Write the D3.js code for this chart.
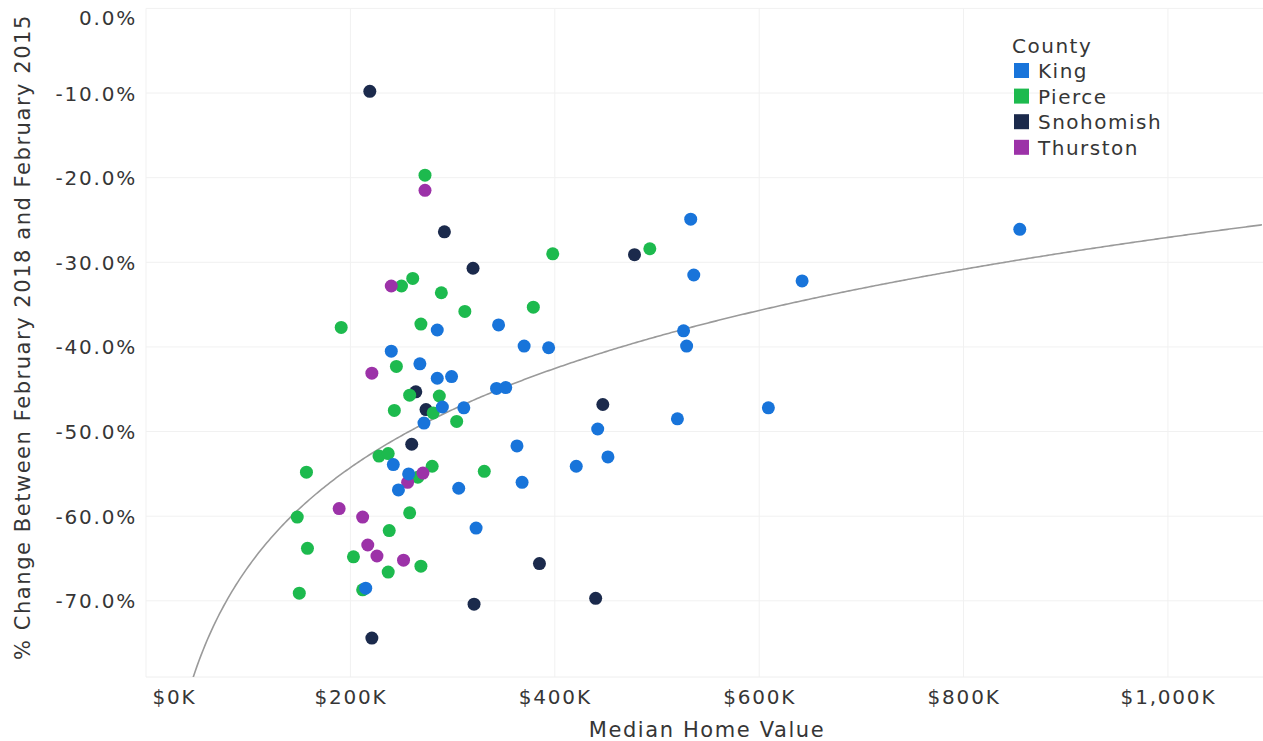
<!DOCTYPE html>
<html>
<head>
<meta charset="utf-8">
<script src="https://cdn.jsdelivr.net/npm/d3@7"></script>
<style>
  html, body { margin: 0; padding: 0; background: #ffffff; }
  svg { display: block; font-family: "DejaVu Sans", sans-serif; }
</style>
</head>
<body>
<svg id="chart" width="1263" height="741"></svg>
<script>
// Median home value ($K) and % change Feb 2015 -> Feb 2018, by county
const counties = ["King", "Pierce", "Snohomish", "Thurston"];
const countyColors = ["#1874da", "#1dba4e", "#1b2a4c", "#9c32a8"];

const kingValue  = [855, 533, 536, 642, 526, 529, 609, 520, 442, 452, 421, 363, 368, 345, 370, 394,
                    343, 352, 285, 240, 268, 285, 299, 290, 311, 272, 242, 257, 247, 306, 323, 215];
const kingChange = [-26.1, -24.9, -31.5, -32.2, -38.1, -39.9, -47.2, -48.5, -49.7, -53.0, -54.1, -51.7,
                    -56.0, -37.4, -39.9, -40.1, -44.9, -44.8, -38.0, -40.5, -42.0, -43.7, -43.5, -47.1,
                    -47.2, -49.0, -53.9, -55.0, -56.9, -56.7, -61.4, -68.5];

const pierceValue  = [273, 398, 493, 379, 250, 261, 289, 312, 191, 269, 245, 258, 287, 243, 281, 304,
                      228, 237, 280, 331, 266, 157, 148, 258, 238, 158, 203, 237, 269, 150, 212];
const pierceChange = [-19.7, -29.0, -28.4, -35.3, -32.8, -31.9, -33.6, -35.8, -37.7, -37.3, -42.3,
                      -45.7, -45.8, -47.5, -47.8, -48.8, -52.9, -52.6, -54.1, -54.7, -55.4, -54.8,
                      -60.1, -59.6, -61.7, -63.8, -64.8, -66.6, -65.9, -69.1, -68.7];

const snohomishValue  = [219, 292, 320, 478, 264, 274, 447, 260, 385, 321, 440, 221];
const snohomishChange = [-9.8, -26.4, -30.7, -29.1, -45.3, -47.4, -46.8, -51.5, -65.6, -70.4, -69.7, -74.4];

const thurstonValue  = [273, 240, 221, 271, 256, 189, 212, 217, 226, 252];
const thurstonChange = [-21.5, -32.8, -43.1, -54.9, -56.0, -59.1, -60.1, -63.4, -64.7, -65.2];

// logarithmic trend line: change = slope * ln(value in $K) + intercept
const trendSlope = 16.9;
const trendIntercept = -143.8;

const xTicks = [0, 200, 400, 600, 800, 1000];
const yTicks = [0, -10, -20, -30, -40, -50, -60, -70];

const xTitle = "Median Home Value";
const yTitle = "% Change Between February 2018 and February 2015";
const legendTitle = "County";

// ---------------------------------------------------------------
const seriesValues = [kingValue, pierceValue, snohomishValue, thurstonValue];
const seriesChanges = [kingChange, pierceChange, snohomishChange, thurstonChange];
const points = [];
counties.forEach((c, i) => {
  seriesValues[i].forEach((v, j) => points.push({ county: c, value: v, change: seriesChanges[i][j] }));
});

const svg = d3.select("#chart");
const plot = { left: 146, right: 1263, top: 8.4, bottom: 677 };

const x = d3.scaleLinear().domain([0, 1093]).range([plot.left, plot.right]);
const y = d3.scaleLinear().domain([-79.0, 0]).range([plot.bottom, plot.top]);
const color = d3.scaleOrdinal().domain(counties).range(countyColors);

const textFill = "#363636";
const tickSize = "20px", tickSpacing = "1.8px";

// plain hyphen for negatives
const fmtPct = d => d3.format(".1f")(d).replace("\u2212", "-") + "%";
const fmtK = d => "$" + d3.format(",")(d) + "K";

// gridlines
const grid = svg.append("g").attr("class", "grid");
grid.selectAll("line.h").data(yTicks).join("line")
  .attr("x1", plot.left).attr("x2", plot.right)
  .attr("y1", d => y(d)).attr("y2", d => y(d))
  .attr("stroke", "#f1f1f1").attr("stroke-width", 1);
grid.selectAll("line.v").data(xTicks).join("line")
  .attr("x1", d => x(d)).attr("x2", d => x(d))
  .attr("y1", plot.top).attr("y2", plot.bottom)
  .attr("stroke", "#f1f1f1").attr("stroke-width", 1);
grid.append("line")
  .attr("x1", plot.left).attr("x2", plot.right)
  .attr("y1", plot.bottom).attr("y2", plot.bottom)
  .attr("stroke", "#eeeeee");

// y axis
const yAxis = d3.axisLeft(y).tickValues(yTicks).tickFormat(fmtPct).tickSize(0).tickPadding(9);
const yg = svg.append("g").attr("transform", `translate(${plot.left},0)`).call(yAxis);
yg.select(".domain").remove();
yg.selectAll("text")
  .attr("font-family", "DejaVu Sans").attr("font-size", tickSize)
  .attr("letter-spacing", tickSpacing).attr("fill", textFill)
  .attr("dy", "0.35em")
  // keep the top label inside the plot area
  .attr("y", d => (y(d) < 14 ? 17 - y(d) : 0));

// x axis
const xAxis = d3.axisBottom(x).tickValues(xTicks).tickFormat(fmtK).tickSize(0).tickPadding(0);
const xg = svg.append("g").attr("transform", `translate(0,${plot.bottom})`).call(xAxis);
xg.select(".domain").remove();
xg.selectAll("text")
  .attr("font-family", "DejaVu Sans").attr("font-size", tickSize)
  .attr("letter-spacing", tickSpacing).attr("fill", textFill)
  .attr("dy", null).attr("y", 27)
  .attr("text-anchor", d => d === 0 ? "start" : "middle")
  .attr("x", d => d === 0 ? 6 : 0);

// axis titles
svg.append("text")
  .attr("x", 707).attr("y", 737)
  .attr("text-anchor", "middle")
  .attr("font-size", "21px").attr("letter-spacing", "1.6px").attr("fill", textFill)
  .text(xTitle);
svg.append("text")
  .attr("transform", "translate(30,337) rotate(-90)")
  .attr("text-anchor", "middle")
  .attr("font-size", "21px").attr("letter-spacing", "1.55px").attr("fill", textFill)
  .text(yTitle);

// trend line, clipped to the plot area
svg.append("clipPath").attr("id", "plot-clip").append("rect")
  .attr("x", plot.left).attr("y", plot.top)
  .attr("width", plot.right - plot.left).attr("height", plot.bottom - plot.top);

const trendX = d3.range(2, 1094, 2);
const trend = d3.line().x(d => x(d)).y(d => y(trendSlope * Math.log(d) + trendIntercept));
svg.append("path")
  .attr("clip-path", "url(#plot-clip)")
  .attr("d", trend(trendX))
  .attr("fill", "none").attr("stroke", "#9a9a9a").attr("stroke-width", 1.6);

// points (drawn county by county so King sits on top)
const drawOrder = ["Snohomish", "Pierce", "Thurston", "King"];
const ordered = drawOrder.flatMap(c => points.filter(p => p.county === c));
svg.append("g").selectAll("circle").data(ordered).join("circle")
  .attr("cx", d => x(d.value)).attr("cy", d => y(d.change))
  .attr("r", 6.5)
  .attr("fill", d => color(d.county));

// legend
const legend = svg.append("g").attr("transform", "translate(1012,0)");
legend.append("text").attr("x", 0).attr("y", 53)
  .attr("font-size", "20px").attr("letter-spacing", "1.5px").attr("fill", textFill)
  .text(legendTitle);
const items = legend.selectAll("g.item").data(counties).join("g")
  .attr("class", "item")
  .attr("transform", (d, i) => `translate(0,${71 + i * 25.6})`);
items.append("rect").attr("x", 2).attr("y", -8).attr("width", 15).attr("height", 15)
  .attr("fill", d => color(d));
items.append("text").attr("x", 26).attr("y", 7)
  .attr("font-size", "20px").attr("letter-spacing", "1.5px").attr("fill", textFill)
  .text(d => d);
</script>
</body>
</html>
